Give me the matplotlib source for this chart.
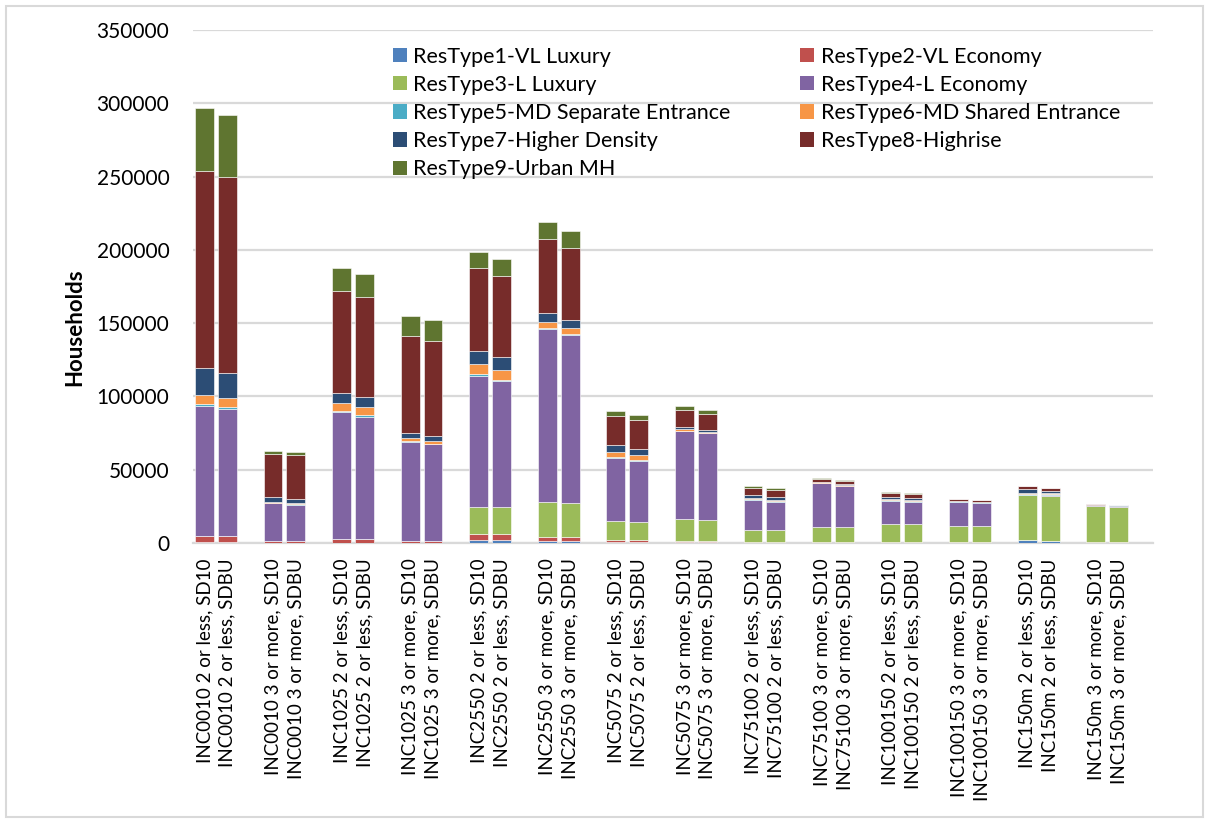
import matplotlib
matplotlib.use("Agg")
import matplotlib.pyplot as plt
from matplotlib.patches import Patch, Rectangle
import numpy as np

plt.rcParams['font.family'] = ['Lato', 'DejaVu Sans']

groups = ["INC0010 2 or less", "INC0010 3 or more", "INC1025 2 or less", "INC1025 3 or more",
          "INC2550 2 or less", "INC2550 3 or more", "INC5075 2 or less", "INC5075 3 or more",
          "INC75100 2 or less", "INC75100 3 or more", "INC100150 2 or less", "INC100150 3 or more",
          "INC150m 2 or less", "INC150m 3 or more"]
variants = ["SD10", "SDBU"]

series_names = ["ResType1-VL Luxury", "ResType2-VL Economy", "ResType3-L Luxury",
                "ResType4-L Economy", "ResType5-MD Separate Entrance", "ResType6-MD Shared Entrance",
                "ResType7-Higher Density", "ResType8-Highrise", "ResType9-Urban MH"]
colors = ["#4F81BD", "#C0504D", "#9BBB59", "#8064A2", "#4BACC6",
          "#F79646", "#2C4D75", "#772C2A", "#5F7530"]

# values per bar: (group, SD10/SDBU) pairs in order
restype1 = [500, 500, 300, 300, 300, 300, 300, 300, 2000, 2000, 1500, 1500, 1000, 1000,
            400, 400, 300, 300, 300, 300, 300, 300, 200, 200, 1800, 1100, 300, 300]
restype2 = [4500, 4500, 1000, 1000, 2200, 2200, 1300, 1300, 4100, 4100, 2800, 2800, 1100, 1100,
            1000, 1000, 600, 600, 300, 300, 400, 400, 300, 300, 100, 100, 100, 100]
restype3 = [0, 0, 0, 0, 0, 0, 0, 0, 18600, 18200, 23800, 23200, 12700, 12500,
            14700, 14300, 8000, 7800, 10000, 10000, 12300, 12300, 11400, 11400, 30600, 30900, 25000, 24500]
restype4 = [88600, 86600, 25700, 24800, 86600, 83600, 67500, 65700, 89200, 85900, 117600, 114100, 43500, 41600,
            60100, 59100, 20200, 19300, 30200, 28400, 15700, 14800, 16300, 15700, 500, 500, 400, 400]
restype5 = [1200, 1400, 300, 300, 1100, 1200, 300, 300, 1300, 1100, 900, 900, 600, 500,
            300, 300, 700, 600, 200, 200, 700, 600, 200, 200, 700, 700, 100, 100]
restype6 = [6200, 5700, 700, 900, 5500, 5700, 2000, 2000, 6900, 6900, 4500, 4300, 3200, 3100,
            1200, 900, 700, 600, 500, 500, 700, 700, 300, 300, 700, 700, 100, 100]
restype7 = [18100, 17400, 3400, 2900, 6400, 6400, 3800, 3700, 8600, 9000, 5700, 5500, 5000, 4600,
            1200, 1100, 2000, 2300, 200, 400, 1400, 1700, 200, 200, 2300, 1300, 100, 100]
restype8 = [135000, 133700, 29300, 29600, 70000, 68600, 66000, 64500, 56600, 55300, 50900, 49300, 19300, 19600,
            11900, 11100, 5300, 5000, 2000, 2300, 2700, 2700, 1000, 900, 2100, 1900, 400, 300]
restype9 = [42500, 42100, 2200, 2300, 15200, 15500, 13800, 14100, 11300, 11400, 11200, 11300, 3700, 3400,
            2700, 2700, 900, 700, 500, 700, 700, 700, 400, 400, 0, 0, 300, 300]

data = [restype1, restype2, restype3, restype4, restype5, restype6, restype7, restype8, restype9]

labels = [g + ", " + v for g in groups for v in variants]
# each group takes 3 slots: two bars and an empty one
x = np.array([3 * g + j for g in range(len(groups)) for j in range(2)])

fig = plt.figure(figsize=(12.09, 8.21), dpi=100)
ax = fig.add_axes([193 / 1209, 1 - 543 / 821, (1153 - 193) / 1209, (543 - 30) / 821])

bottom = np.zeros(len(x))
for vals, name, c in zip(data, series_names, colors):
    vals = np.array(vals, dtype=float)
    ax.bar(x, vals, width=0.83, bottom=bottom, color=c, label=name,
           edgecolor="white", linewidth=0.4, zorder=3)
    bottom += vals

ax.set_xlim(-0.5, 3 * len(groups) - 0.5)
ax.set_ylim(0, 350000)
ax.set_yticks(np.arange(0, 350001, 50000))
ax.yaxis.grid(True, color="#D9D9D9", linewidth=1.6, zorder=0)
ax.set_axisbelow(True)
for s in ["top", "right", "left"]:
    ax.spines[s].set_visible(False)
ax.spines["bottom"].set_color("#D9D9D9")
ax.spines["bottom"].set_linewidth(1.6)

ax.set_xticks(x)
ax.set_xticklabels(labels, rotation=90, va="top", ha="center", fontsize=13.5)
ax.tick_params(axis="x", length=0, pad=11)
ax.tick_params(axis="y", length=0, pad=17, labelsize=15)
ax.set_ylabel("Households", fontsize=16, fontweight="bold")
ax.yaxis.set_label_coords((85 - 193) / 960, (543 - 327) / 513)

# legend fills row by row in the reference: reorder for column-wise filling
h = [Patch(facecolor=c) for c in colors]
order = [0, 2, 4, 6, 8, 1, 3, 5, 7]
leg = ax.legend([h[i] for i in order], [series_names[i] for i in order], ncol=2,
                loc="upper left", bbox_to_anchor=(384 / 1209, 1 - 38 / 821),
                bbox_transform=fig.transFigure, frameon=False, fontsize=15.5,
                handlelength=0.65, handleheight=0.65, handletextpad=0.3,
                labelspacing=0.38, columnspacing=3.25, borderaxespad=0)

fig.patches.append(Rectangle((6 / 1209, 4 / 821), 1197 / 1209, 811 / 821,
                             transform=fig.transFigure, fill=False,
                             edgecolor="#D9D9D9", linewidth=1.5))

fig.savefig("out.png", dpi=100)
